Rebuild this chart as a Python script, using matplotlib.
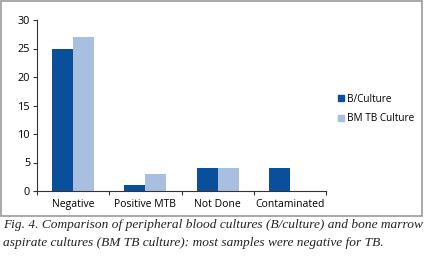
import matplotlib
matplotlib.use("Agg")
import matplotlib.pyplot as plt
from matplotlib.patches import Rectangle
from matplotlib.lines import Line2D
import numpy as np

categories = ["Negative", "Positive MTB", "Not Done", "Contaminated"]
b_culture = [25, 1, 4, 4]
bm_tb_culture = [27, 3, 4, 0]
series_names = ["B/Culture", "BM TB Culture"]
yticks = [0, 5, 10, 15, 20, 25, 30]

dark = "#0a4f9b"
light = "#a9bfe0"

W, H = 424, 263
fig = plt.figure(figsize=(W / 100, H / 100), dpi=100)
plt.rcParams['font.family'] = ['Open Sans', 'DejaVu Sans']

def fx(px):
    return px / W

def fy(py):
    return 1 - py / H

# border box
fig.patches.append(Rectangle((fx(1), fy(216)), fx(421), 215 / H, transform=fig.transFigure,
                             facecolor="none", edgecolor="#9a9a9a", linewidth=1.2))

ax = fig.add_axes([fx(37), fy(191), fx(326 - 37), (191 - 20) / H])
x = np.arange(len(categories))
bw = 0.29
ax.bar(x - bw / 2, b_culture, width=bw, color=dark, label=series_names[0])
ax.bar(x + bw / 2, bm_tb_culture, width=bw, color=light, label=series_names[1])

ax.set_xlim(-0.5, len(categories) - 0.5)
ax.set_ylim(0, 30)
ax.set_yticks(yticks)
ax.set_yticklabels([str(v) for v in yticks], fontsize=7.8)
ax.set_xticks(np.arange(len(categories) + 1) - 0.5)
ax.set_xticklabels([])
ax.set_xticks(x, minor=True)
ax.set_xticklabels(categories, minor=True, fontsize=7.5)
ax.tick_params(axis="x", which="minor", length=0, pad=6)
ax.tick_params(axis="x", which="major", length=3, width=0.8, color="#333333")
ax.tick_params(axis="y", length=3, width=0.8, color="#333333", pad=2)
for s in ["top", "right"]:
    ax.spines[s].set_visible(False)
for s in ["left", "bottom"]:
    ax.spines[s].set_linewidth(0.8)
    ax.spines[s].set_color("#333333")

handles = [Line2D([], [], marker="s", linestyle="none", markersize=4.5, color=dark),
           Line2D([], [], marker="s", linestyle="none", markersize=4.5, color=light)]
fig.legend(handles, series_names, loc="center left", bbox_to_anchor=(fx(333), fy(109)),
           frameon=False, fontsize=7.2, handlelength=0.6, handletextpad=0.3,
           labelspacing=0.85, borderpad=0)

cap_font = ['Liberation Serif', 'DejaVu Serif']
fig.text(fx(3), fy(225), "Fig. 4. Comparison of peripheral blood cultures (B/culture) and bone marrow",
         fontsize=9.6, style="italic", family=cap_font, va="center", ha="left", color="#222222")
fig.text(fx(3), fy(243), "aspirate cultures (BM TB culture): most samples were negative for TB.",
         fontsize=9.6, style="italic", family=cap_font, va="center", ha="left", color="#222222")

fig.savefig("out.png", dpi=100)
